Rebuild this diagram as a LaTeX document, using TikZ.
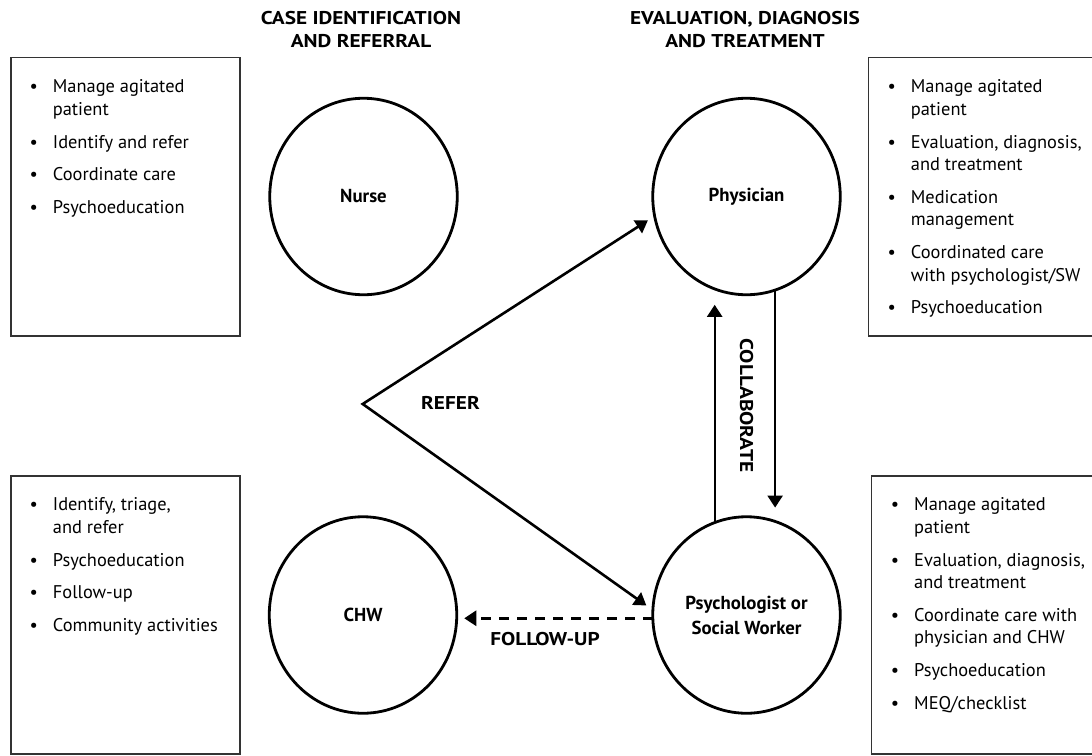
\documentclass[tikz,border=0pt]{standalone}
\usepackage{fontspec}
\setmainfont{PT Sans}
% wider bold face for the all-capitals headings and connector labels
\newfontfamily\capsface{PT Sans Bold}[FakeStretch=1.15]
\usetikzlibrary{shapes.geometric,arrows.meta,calc}

% bullet hanging to the left of an item's first line
\newcommand\itm{\leavevmode\llap{\textbullet\hspace{15pt}}}
\newcommand\itemgap{\\[10.5pt]}

\begin{document}
\begin{tikzpicture}[x=1pt,y=-1pt,
  role/.style={ellipse, draw, line width=2.8pt, minimum width=187.5pt,
    minimum height=196.5pt, inner sep=0pt, outer sep=0pt, align=center,
    font=\bfseries\fontsize{18.8}{25}\selectfont},
  infobox/.style={draw=black!80, line width=1.6pt, anchor=north west,
    inner sep=0pt, outer sep=0pt},
  items/.style={anchor=base west, inner sep=0pt},
  heading/.style={anchor=base, inner sep=0pt},
  tag/.style={font=\capsface\fontsize{18.5}{22}\selectfont, inner sep=0pt},
  link/.style={line width=2.6pt, line join=miter},
  tip/.tip={Triangle[length=12pt,width=15pt]},
]
\path[use as bounding box, fill=white] (0,0) rectangle (1092,755);

% column headings
\node[heading] (headleft) at (361,24.3)
  {\parbox[t]{260pt}{\centering\capsface\fontsize{18.5}{23.4}\selectfont
   CASE IDENTIFICATION\\AND REFERRAL}};
\node[heading] (headright) at (745,24.3)
  {\parbox[t]{290pt}{\centering\capsface\fontsize{18.5}{23.4}\selectfont
   EVALUATION, DIAGNOSIS\\AND TREATMENT}};

% the four roles
\node[role] (nurse)  at (363.5,196.5) {Nurse};
\node[role] (phys)   at (746.5,196.5) {Physician};
\node[role] (chw)    at (363,615)     {CHW};
\node[role] (psych)  at (746.5,615)   {Psychologist or\\Social Worker};

% task boxes
\node[infobox, minimum width=229pt, minimum height=278.5pt] (boxnurse) at (10.8,57.5) {};
\node[infobox, minimum width=232pt, minimum height=278.5pt] (boxphys)  at (868.5,57.5) {};
\node[infobox, minimum width=229pt, minimum height=278.2pt] (boxchw)   at (10.8,475.8) {};
\node[infobox, minimum width=229pt, minimum height=278.2pt] (boxpsych) at (871.5,475.8) {};

\node[items] (listnurse) at (52.7,92.7) {\parbox[t]{185pt}{\raggedright
  \fontsize{18.4}{22.4}\selectfont
  \itm Manage agitated\\patient\itemgap
  \itm Identify and refer\itemgap
  \itm Coordinate care\itemgap
  \itm Psychoeducation}};
\node[items] (listphys) at (910.7,92.7) {\parbox[t]{185pt}{\raggedright
  \fontsize{18.4}{22.4}\selectfont
  \itm Manage agitated\\patient\itemgap
  \itm Evaluation, diagnosis,\\and treatment\itemgap
  \itm Medication\\management\itemgap
  \itm Coordinated care\\with psychologist/SW\itemgap
  \itm Psychoeducation}};
\node[items] (listchw) at (52.7,510.7) {\parbox[t]{185pt}{\raggedright
  \fontsize{18.4}{22.4}\selectfont
  \itm Identify, triage,\\and refer\itemgap
  \itm Psychoeducation\itemgap
  \itm Follow-up\itemgap
  \itm Community activities}};
\node[items] (listpsych) at (914,510.7) {\parbox[t]{185pt}{\raggedright
  \fontsize{18.4}{22.4}\selectfont
  \itm Manage agitated\\patient\itemgap
  \itm Evaluation, diagnosis,\\and treatment\itemgap
  \itm Coordinate care with\\physician and CHW\itemgap
  \itm Psychoeducation\itemgap
  \itm MEQ/checklist}};

% referral fork
\coordinate (fork) at (362.7,404);
\draw[link, tip-tip, shorten <=8pt, shorten >=8pt]
  (phys.192) -- (fork) -- (psych.177);
\node[tag, anchor=base] (refer) at (450.5,409.3) {REFER};

% collaboration between physician and psychologist
\draw[line width=2.3pt, -tip, shorten >=16.5pt]
  (psych.109.3) -- (psych.109.3 |- phys.250.7);
\draw[line width=2.3pt, -tip, shorten >=14.4pt]
  (phys.287.15) -- (phys.287.15 |- psych.72.85);
\node[tag, rotate=-90] (collab) at (746.7,405.5) {COLLABORATE};

% follow-up to the community health worker
\draw[line width=2.6pt, dash pattern=on 10pt off 8pt, -tip, shorten >=7.5pt]
  (psych.182) -- (psych.182 -| chw.east);
\node[tag, anchor=base] (follow) at (545,645) {FOLLOW-UP};
\end{tikzpicture}
\end{document}
